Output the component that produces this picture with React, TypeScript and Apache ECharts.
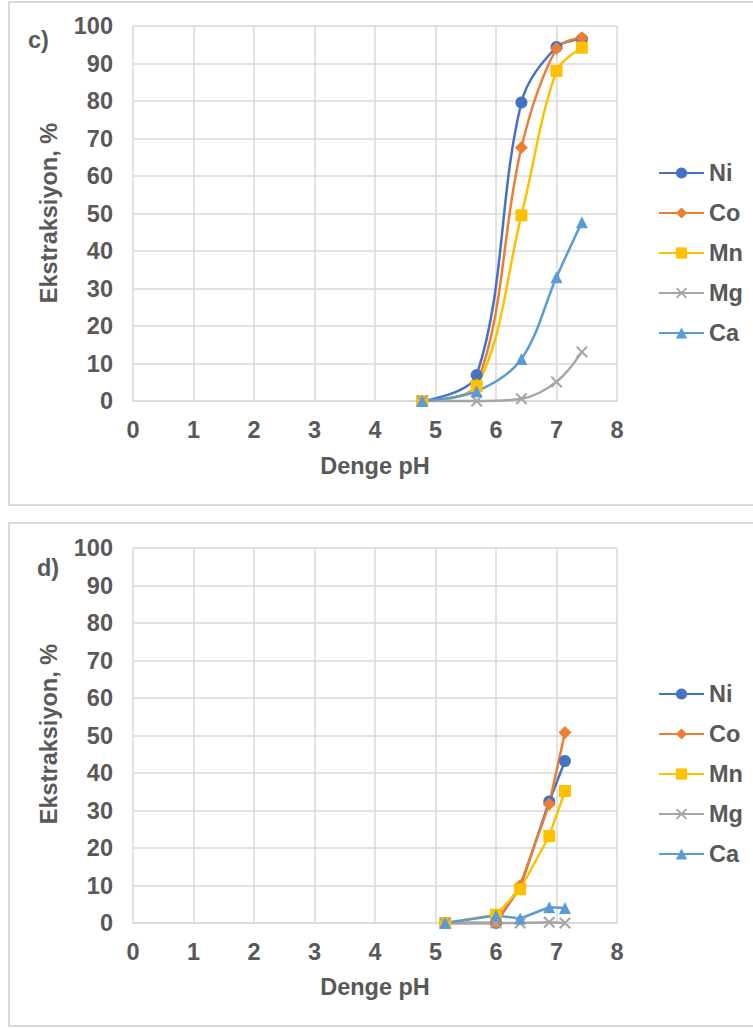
import React, { useEffect, useRef } from "react";
import * as echarts from "echarts";

const FONT = '"Liberation Sans", Arial, sans-serif';
const TXT = "#595959";
const GRID = "#d9d9d9";
const FS = 23.5;

const names = ["Ni", "Co", "Mn", "Mg", "Ca"];
const colors = ["#4472C4", "#ED7D31", "#FFC000", "#A5A5A5", "#5B9BD5"];
const CROSS = "path://M0,1.2L1.2,0L5,3.8L8.8,0L10,1.2L6.2,5L10,8.8L8.8,10L5,6.2L1.2,10L0,8.8L3.8,5Z";
const symbols = ["circle", "diamond", "rect", CROSS, "triangle"];

// Panel c)
const phC = [4.78, 5.68, 6.42, 7.0, 7.42];
const niC = [0, 6.9, 79.6, 94.4, 96.5];
const coC = [0, 4.5, 67.6, 94.0, 96.9];
const mnC = [0, 4.0, 49.5, 88.0, 94.2];
const mgC = [0, 0, 0.6, 5.1, 13.1];
const caC = [0, 2.6, 11.2, 33.0, 47.7];

// Panel d)
const phD = [5.16, 6.0, 6.4, 6.88, 7.14];
const niD = [0, 0, 9.5, 32.4, 43.2];
const coD = [0, 0, 10.0, 31.7, 50.8];
const mnD = [0, 2.2, 9.0, 23.2, 35.2];
const mgD = [0, 0, 0, 0.2, 0];
const caD = [0, 2.0, 1.2, 4.2, 4.0];

const xTicks = [0, 1, 2, 3, 4, 5, 6, 7, 8];
const yTicks = [0, 10, 20, 30, 40, 50, 60, 70, 80, 90, 100];

export default function App() {
  const ref = useRef<HTMLDivElement>(null);
  useEffect(() => {
    if (!ref.current) return;
    const chart = echarts.init(ref.current, undefined, { renderer: "svg" });
    const seriesC = [niC, coC, mnC, mgC, caC];
    const seriesD = [niD, coD, mnD, mgD, caD];
    const mk = (vals: number[][], ph: number[], gi: number, smooth: number | boolean) =>
      vals.map((v, i) => ({
        name: names[i],
        type: "line",
        xAxisIndex: gi,
        yAxisIndex: gi,
        data: ph.map((x, j) => [x, v[j]]),
        symbol: symbols[i],
        symbolSize: i === 1 ? 13 : 12,
        smooth,
        clip: false,
        lineStyle: { width: 2.5, color: colors[i] },
        itemStyle: { color: colors[i] },
      }));
    const axisLabel = { color: TXT, fontSize: FS, fontWeight: "bold", fontFamily: FONT };
    const mkX = (gi: number) => ({
      type: "value",
      gridIndex: gi,
      min: xTicks[0],
      max: xTicks[xTicks.length - 1],
      interval: 1,
      axisLine: { show: true, lineStyle: { color: GRID, width: 1.5 } },
      axisTick: { show: false },
      splitLine: { show: true, lineStyle: { color: GRID, width: 1.5 } },
      axisLabel: { ...axisLabel, margin: 17 },
    });
    const mkY = (gi: number) => ({
      type: "value",
      gridIndex: gi,
      min: yTicks[0],
      max: yTicks[yTicks.length - 1],
      interval: 10,
      axisLine: { show: false },
      axisTick: { show: false },
      splitLine: { show: true, lineStyle: { color: GRID, width: 1.5 } },
      axisLabel: { ...axisLabel, margin: 20 },
    });
    const mkLegend = (top: number) => ({
      orient: "vertical",
      left: 658,
      top,
      padding: 0,
      itemWidth: 45,
      itemHeight: 14,
      itemGap: 16,
      textStyle: { color: TXT, fontSize: FS, fontWeight: "bold", fontFamily: FONT },
      data: names,
    });
    const titleStyle = { fill: TXT, fontSize: FS, fontWeight: "bold", fontFamily: FONT };
    const panel = (y: number, label: string, lx: number, ly: number, off: number) => [
      {
        type: "rect",
        shape: { x: 9, y, width: 780, height: 503 },
        style: { fill: "none", stroke: GRID, lineWidth: 2 },
        silent: true,
      },
      {
        type: "text",
        x: lx,
        y: ly,
        style: { ...titleStyle, text: label, align: "left", verticalAlign: "middle" },
      },
      {
        type: "text",
        x: 49,
        y: 213 + off,
        rotation: Math.PI / 2,
        style: { ...titleStyle, text: "Ekstraksiyon, %", align: "center", verticalAlign: "middle" },
      },
      {
        type: "text",
        x: 375,
        y: 466 + off,
        style: { ...titleStyle, text: "Denge pH", align: "center", verticalAlign: "middle" },
      },
    ];
    chart.setOption({
      animation: false,
      textStyle: { fontFamily: FONT },
      grid: [
        { left: 133, top: 26, width: 484, height: 375 },
        { left: 133, top: 548, width: 484, height: 375 },
      ],
      xAxis: [mkX(0), mkX(1)],
      yAxis: [mkY(0), mkY(1)],
      legend: [mkLegend(161), mkLegend(682)],
      graphic: [...panel(2, "c)", 28, 40, 0), ...panel(523, "d)", 37, 568, 521)],
      series: [...mk(seriesC, phC, 0, 0.35), ...mk(seriesD, phD, 1, false)],
    });
    return () => chart.dispose();
  }, []);
  return (
    <div
      ref={ref}
      style={{ position: "absolute", left: 0, top: 0, width: 753, height: 1029, background: "#fff" }}
    />
  );
}
